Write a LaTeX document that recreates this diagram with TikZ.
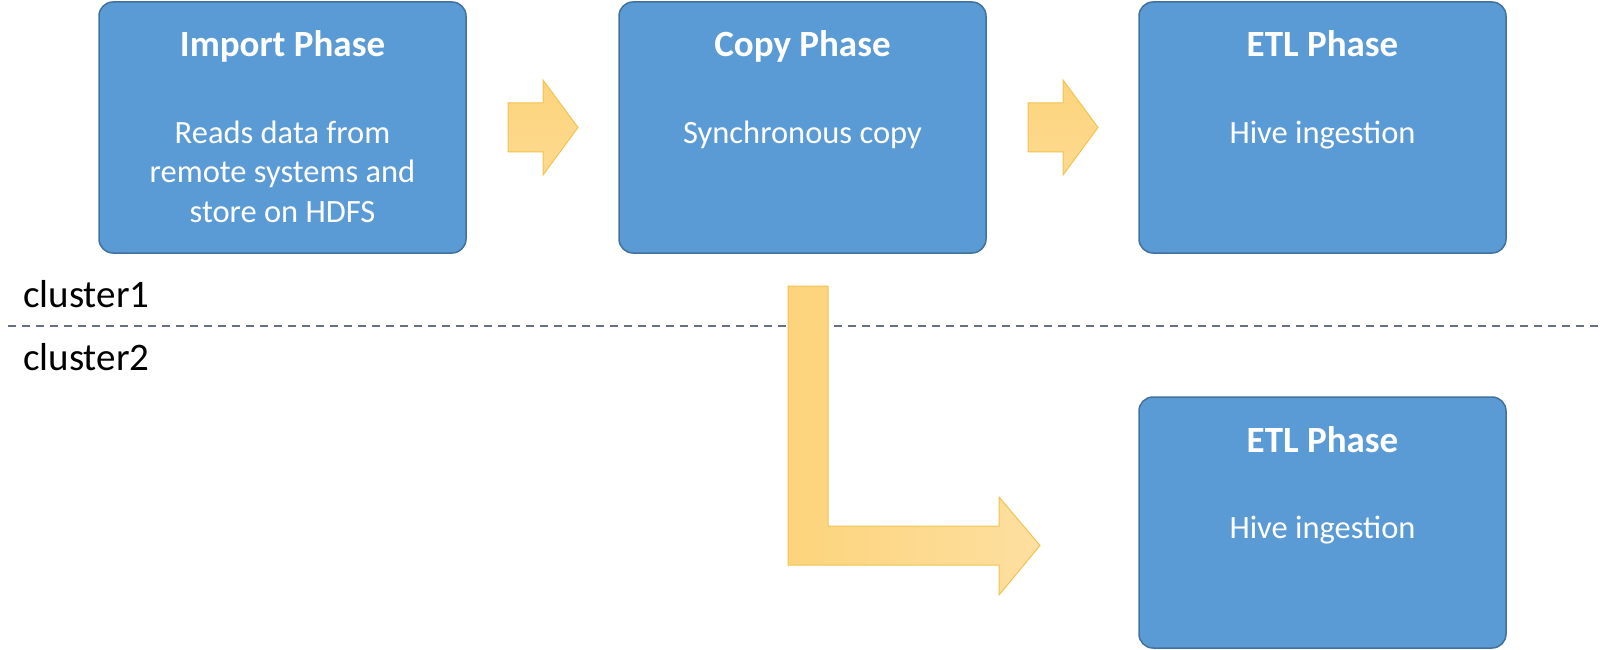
\documentclass[tikz,border=0pt]{standalone}
\usepackage{fontspec}
\setmainfont{Carlito}
\begin{document}
\begin{tikzpicture}[x=1pt,y=-1pt,
  box/.style={draw=boxborder, fill=boxfill, line width=1.5pt, rounded corners=14pt,
    minimum width=367pt, minimum height=251pt, inner sep=0pt},
  ttl/.style={anchor=base, text=white, font=\fontsize{37}{44}\selectfont\bfseries, inner sep=0pt},
  bod/.style={anchor=base, text=white, font=\fontsize{32.5}{39.5}\selectfont, inner sep=0pt, align=center},
  clab/.style={anchor=base west, font=\fontsize{39}{46}\selectfont, inner sep=0pt},
  blockarrow/.style={draw=arrowborder, line width=1pt, left color=arrowleft, right color=arrowright, line join=miter},
  smallarrow/.style={draw=arrowborder, line width=1pt, top color=arrowleft, bottom color=arrowbot, line join=miter}
]
\definecolor{boxfill}{HTML}{5B9BD5}
\definecolor{boxborder}{HTML}{41719C}
\definecolor{arrowleft}{HTML}{FDD47C}
\definecolor{arrowright}{HTML}{FDDFA0}
\definecolor{arrowbot}{HTML}{FDDA90}
\definecolor{arrowborder}{HTML}{F2C34E}
\definecolor{dashcol}{HTML}{667086}
\useasboundingbox (0,0) rectangle (1604,650);

% divider
\coordinate (dl) at (8,325.5);
\coordinate (dr) at (1600,325.5);
\draw[dashcol, line width=2pt, dash pattern=on 8pt off 6pt] (dl) -- (dr);

% boxes
\node[box] (imp) at (282.5,127.5) {};
\node[box] (cpy) at (802.5,127.5) {};
\node[box] (etl) at (1322.5,127.5) {};
\node[box] (etlb) at (1322.5,522.5) {};

% texts
\node[ttl] (impT) at (282.5,57) {Import Phase};
\node[bod] (impB1) at (282.5,143) {Reads data from};
\node[bod] (impB2) at (282.5,182.5) {remote systems and};
\node[bod] (impB3) at (282.5,222) {store on HDFS};
\node[ttl] (cpyT) at (802.5,57) {Copy Phase};
\node[bod] (cpyB) at (802.5,143) {Synchronous copy};
\node[ttl] (etlT) at (1322.5,57) {ETL Phase};
\node[bod] (etlB) at (1322.5,143) {Hive ingestion};
\node[ttl] (etlbT) at (1322.5,452) {ETL Phase};
\node[bod] (etlbB) at (1322.5,538) {Hive ingestion};

% cluster labels
\node[clab] (c1) at (23,307) {cluster1};
\node[clab] (c2) at (23,370) {cluster2};

% block arrows
\path[smallarrow] (508,103) -- (543,103) -- (543,80) -- (578,127.5) -- (543,175) -- (543,152) -- (508,152) -- cycle;
\path[smallarrow] (1028,103) -- (1063,103) -- (1063,80) -- (1098,127.5) -- (1063,175) -- (1063,152) -- (1028,152) -- cycle;
\path[blockarrow] (788,286) -- (828,286) -- (828,526) -- (999,526) -- (999,497) -- (1040,545.5) -- (999,595) -- (999,565) -- (788,565) -- cycle;
\end{tikzpicture}
\end{document}
